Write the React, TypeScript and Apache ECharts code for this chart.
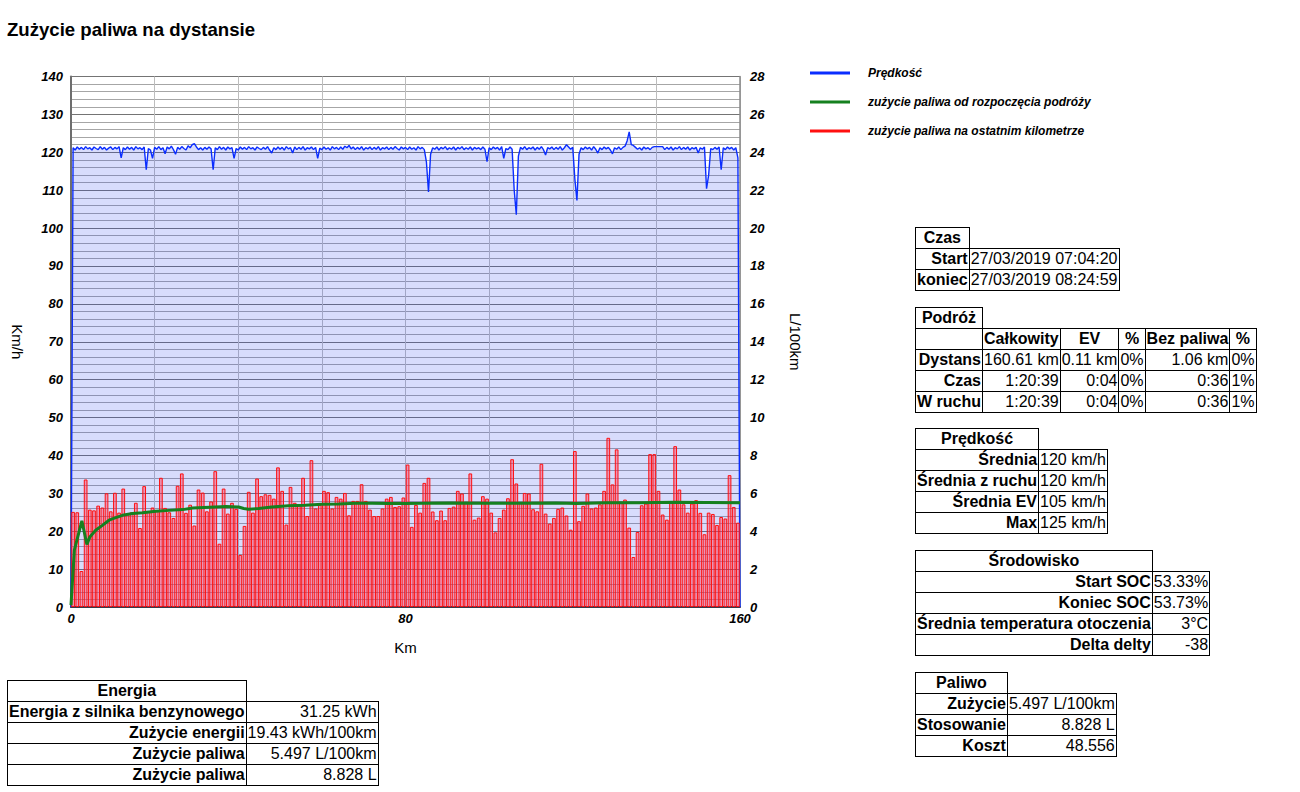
import React, { useEffect, useRef } from "react";
import * as echarts from "echarts";

const FONT = '"Liberation Sans", Arial, Helvetica, sans-serif';

// ---------- DATA ----------
const TITLE = "Zużycie paliwa na dystansie";
const SERIES_NAMES = [
  "Prędkość",
  "zużycie paliwa od rozpoczęcia podróży",
  "zużycie paliwa na ostatnim kilometrze",
];
const X_NAME = "Km";
const Y_LEFT_NAME = "Km/h";
const Y_RIGHT_NAME = "L/100km";

// speed (km/h), one sample every 0.5 km from km 0 to km 160
const SPEED_STEP_KM = 0.5;
const speedKmh = [
  0, 121.2, 120.6, 121.4, 120.8, 121.3, 120.7, 121.5, 120.9, 121.2, 120.6, 121.4, 121.0, 120.7, 121.5, 120.8, 121.3, 120.6, 121.1, 121.4,
  120.7, 121.3, 120.9, 121.5, 118.5, 121.2, 120.7, 121.4, 120.8, 121.3, 120.6, 121.5, 120.9, 121.2, 120.7, 121.4, 115.4, 121.0, 120.6, 118.4,
  121.3, 120.8, 121.5, 120.7, 121.2, 119.6, 121.4, 120.9, 121.6, 120.7, 119.5, 121.3, 120.8, 121.5, 121.0, 120.6, 121.7, 121.2, 122.0, 122.3,
  121.4, 120.7, 121.2, 120.6, 121.3, 120.8, 121.4, 120.9, 115.4, 121.2, 120.7, 121.5, 120.8, 121.3, 120.6, 121.4, 120.9, 121.2, 118.4, 121.0,
  120.6, 121.4, 120.8, 121.3, 120.7, 121.5, 120.9, 121.2, 120.6, 121.4, 121.0, 120.7, 121.3, 120.8, 121.5, 120.6, 119.8, 121.2, 120.7, 121.4,
  120.8, 121.3, 120.6, 121.5, 120.9, 121.2, 119.8, 121.4, 120.7, 121.3, 120.8, 121.5, 120.6, 121.2, 120.9, 121.4, 120.7, 121.3, 118.4, 121.1,
  120.7, 121.4, 120.8, 121.2, 120.6, 121.5, 120.9, 121.3, 120.7, 121.4, 120.8, 121.6, 121.2, 121.8, 120.9, 121.4, 120.7, 121.3, 120.8, 121.5,
  120.6, 121.2, 120.9, 121.4, 120.7, 121.3, 120.8, 121.5, 120.6, 121.2, 120.9, 121.4, 120.7, 121.3, 120.8, 121.5, 121.0, 120.6, 121.4, 120.9,
  121.3, 120.7, 121.4, 120.8, 121.2, 120.6, 121.5, 120.9, 121.3, 120.7, 117.5, 109.5, 119.5, 121.2, 120.8, 121.4, 120.6, 121.3, 120.9, 121.5,
  120.7, 121.2, 120.8, 121.4, 120.6, 121.3, 120.9, 121.5, 120.7, 121.2, 120.8, 121.4, 120.6, 121.3, 120.9, 121.2, 120.7, 121.4, 120.8, 117.5,
  121.2, 120.7, 121.4, 120.9, 121.3, 120.6, 121.5, 118.4, 121.0, 120.7, 121.4, 120.8, 110.0, 103.5, 119.0, 121.3, 120.8, 121.5, 120.7, 121.2,
  120.9, 121.4, 120.6, 121.3, 120.8, 121.5, 120.7, 119.3, 121.2, 120.9, 121.4, 120.7, 121.3, 120.8, 121.5, 120.6, 121.2, 122.0, 121.4, 120.8,
  121.3, 113.0, 107.3, 119.5, 121.2, 120.7, 121.4, 120.9, 121.3, 120.6, 121.5, 120.8, 119.8, 121.2, 120.7, 121.4, 120.9, 121.3, 120.6, 119.6,
  121.2, 120.8, 121.4, 120.7, 121.3, 121.6, 123.0, 125.4, 122.0, 121.8, 121.3, 120.8, 121.2, 120.6, 121.4, 120.9, 121.2, 120.7, 121.3, 121.5,
  121.5, 121.5, 121.5, 121.5, 120.7, 121.3, 120.8, 121.4, 120.6, 121.2, 120.9, 121.5, 120.7, 121.3, 120.8, 121.4, 120.6, 121.2, 120.9, 121.3,
  119.8, 121.2, 120.8, 121.4, 110.4, 114.0, 121.0, 120.7, 121.3, 120.8, 121.4, 115.4, 121.2, 120.7, 121.4, 120.9, 121.3, 120.6, 121.2, 118.5,
  0,
];

// fuel consumption on each kilometre (L/100km), km 1..160
const fuelPerKm = [
  5.02, 5.0, 1.9, 6.73, 5.14, 5.1, 5.35, 5.25, 6.0, 5.05,
  6.03, 4.98, 6.25, 4.93, 5.0, 5.5, 4.17, 6.38, 5.07, 5.25,
  5.1, 6.82, 5.23, 5.0, 4.7, 6.4, 7.05, 4.97, 5.4, 4.3,
  6.2, 6.04, 5.05, 5.57, 7.17, 3.34, 6.25, 4.93, 5.5, 5.18,
  2.75, 4.28, 6.08, 4.98, 6.78, 5.85, 5.95, 5.92, 5.72, 7.37,
  6.13, 4.35, 6.34, 5.5, 5.4, 6.82, 4.8, 7.75, 5.2, 5.4,
  6.13, 6.06, 5.2, 5.81, 5.72, 6.02, 4.84, 5.6, 5.6, 6.48,
  5.6, 5.14, 4.8, 4.8, 5.2, 5.72, 5.81, 5.28, 5.32, 5.78,
  7.52, 4.23, 5.39, 4.98, 6.55, 6.82, 5.04, 4.58, 5.09, 4.58,
  5.23, 5.3, 6.13, 5.99, 5.55, 7.05, 4.61, 4.72, 5.85, 5.72,
  4.98, 3.94, 4.7, 5.14, 5.74, 7.8, 6.52, 5.5, 6.02, 5.99,
  5.16, 5.05, 7.56, 4.93, 4.4, 4.7, 5.18, 5.25, 4.83, 4.08,
  8.23, 4.53, 5.34, 5.99, 5.2, 5.25, 5.42, 6.13, 8.93, 6.47,
  8.32, 5.55, 5.67, 4.19, 2.64, 3.96, 5.37, 5.46, 8.07, 8.07,
  6.13, 4.88, 4.61, 5.55, 8.49, 6.2, 5.42, 4.98, 5.46, 5.64,
  4.97, 3.84, 4.98, 4.91, 4.33, 4.75, 4.67, 6.96, 5.28, 4.45,
];

// average consumption since start of trip (L/100km)
const avgKm = [
  0, 0.8, 2.6, 3.8, 4.5, 5.9, 7.5, 9.1, 10.7, 12.3, 14.7, 17.1, 20.3, 23.5, 26.7, 29.1, 33.1, 37.1, 40.1, 41.3, 42.5,
  44.9, 48, 52, 56, 60, 64, 68, 72, 76, 80, 84, 91, 99, 107, 116, 121, 128, 136, 144, 152, 160,
];
const avgVal = [
  0.1, 3.0, 4.55, 3.3, 3.7, 4.05, 4.31, 4.58, 4.72, 4.84, 4.93, 4.98, 5.05, 5.1, 5.14, 5.23, 5.27, 5.3, 5.28, 5.2, 5.16,
  5.2, 5.28, 5.34, 5.37, 5.42, 5.44, 5.48, 5.48, 5.46, 5.46, 5.47, 5.49, 5.48, 5.48, 5.49, 5.46, 5.5, 5.5, 5.53, 5.52, 5.5,
];

// tables
const czasRows = [
  ["Start", "27/03/2019 07:04:20"],
  ["koniec", "27/03/2019 08:24:59"],
];
const podrozHead = ["", "Całkowity", "EV", "%", "Bez paliwa", "%"];
const podrozRows = [
  ["Dystans", "160.61 km", "0.11 km", "0%", "1.06 km", "0%"],
  ["Czas", "1:20:39", "0:04", "0%", "0:36", "1%"],
  ["W ruchu", "1:20:39", "0:04", "0%", "0:36", "1%"],
];
const predkoscRows = [
  ["Średnia", "120 km/h"],
  ["Średnia z ruchu", "120 km/h"],
  ["Średnia EV", "105 km/h"],
  ["Max", "125 km/h"],
];
const srodowiskoRows = [
  ["Start SOC", "53.33%"],
  ["Koniec SOC", "53.73%"],
  ["Średnia temperatura otoczenia", "3°C"],
  ["Delta delty", "-38"],
];
const paliwoRows = [
  ["Zużycie", "5.497 L/100km"],
  ["Stosowanie", "8.828 L"],
  ["Koszt", "48.556"],
];
const energiaRows = [
  ["Energia z silnika benzynowego", "31.25 kWh"],
  ["Zużycie energii", "19.43 kWh/100km"],
  ["Zużycie paliwa", "5.497 L/100km"],
  ["Zużycie paliwa", "8.828 L"],
];

// ---------- STYLES ----------
const COLOR_SPEED = "#0a2dff";
const COLOR_AVG = "#15801f";
const COLOR_BAR = "#ff1010";

const tdBase: React.CSSProperties = {
  border: "1px solid #000",
  padding: "1px 1px",
  whiteSpace: "nowrap",
  lineHeight: "18px",
};

function KVTable(props: {
  left: number;
  top: number;
  title: string;
  rows: string[][];
  valueAlign?: "left" | "right";
}) {
  const { left, top, title, rows, valueAlign = "right" } = props;
  return (
    <table
      style={{
        position: "absolute",
        left,
        top,
        borderCollapse: "collapse",
        fontFamily: FONT,
        fontSize: 16,
        color: "#000",
      }}
    >
      <tbody>
        <tr>
          <td style={{ ...tdBase, fontWeight: "bold", textAlign: "center" }}>{title}</td>
        </tr>
        {rows.map((r, i) => (
          <tr key={i}>
            <td style={{ ...tdBase, fontWeight: "bold", textAlign: "right" }}>{r[0]}</td>
            <td style={{ ...tdBase, textAlign: valueAlign }}>{r[1]}</td>
          </tr>
        ))}
      </tbody>
    </table>
  );
}

function PodrozTable(props: { left: number; top: number }) {
  return (
    <table
      style={{
        position: "absolute",
        left: props.left,
        top: props.top,
        borderCollapse: "collapse",
        fontFamily: FONT,
        fontSize: 16,
        color: "#000",
      }}
    >
      <tbody>
        <tr>
          <td style={{ ...tdBase, fontWeight: "bold", textAlign: "center" }}>Podróż</td>
        </tr>
        <tr>
          {podrozHead.map((h, i) => (
            <td key={i} style={{ ...tdBase, fontWeight: "bold", textAlign: "center" }}>
              {h}
            </td>
          ))}
        </tr>
        {podrozRows.map((r, i) => (
          <tr key={i}>
            {r.map((c, j) => (
              <td
                key={j}
                style={{ ...tdBase, fontWeight: j === 0 ? "bold" : "normal", textAlign: "right" }}
              >
                {c}
              </td>
            ))}
          </tr>
        ))}
      </tbody>
    </table>
  );
}

export default function App() {
  const ref = useRef<HTMLDivElement>(null);

  useEffect(() => {
    if (!ref.current) return;
    const chart = echarts.init(ref.current, null, { renderer: "svg" });

    const axisLabelStyle = {
      color: "#000",
      fontFamily: FONT,
      fontSize: 13,
      fontWeight: "bold" as const,
      fontStyle: "italic" as const,
    };
    const nameStyle = { color: "#000", fontFamily: FONT, fontSize: 15 };

    const legendYs = [73, 102, 131];
    const legendColors = [COLOR_SPEED, COLOR_AVG, COLOR_BAR];
    const legendGraphics: any[] = [];
    SERIES_NAMES.forEach((n, i) => {
      legendGraphics.push({
        type: "line",
        shape: { x1: 810, y1: legendYs[i], x2: 850, y2: legendYs[i] },
        style: { stroke: legendColors[i], lineWidth: 3 },
      });
      legendGraphics.push({
        type: "text",
        x: 868,
        y: legendYs[i],
        style: {
          text: n,
          fill: "#000",
          fontFamily: FONT,
          fontSize: 12,
          fontStyle: "italic",
          fontWeight: "bold",
          verticalAlign: "middle",
        },
      });
    });

    const option: any = {
      animation: false,
      backgroundColor: "#ffffff",
      textStyle: { fontFamily: FONT },
      title: {
        text: TITLE,
        left: 7,
        top: 20,
        padding: 0,
        textStyle: { color: "#000", fontFamily: FONT, fontSize: 18.6, fontWeight: "bold" },
      },
      graphic: legendGraphics,
      grid: { left: 71, right: 560, top: 76.5, bottom: 185, containLabel: false },
      xAxis: {
        type: "value",
        min: 0,
        max: 160,
        interval: 20,
        name: X_NAME,
        nameLocation: "middle",
        nameGap: 33,
        nameTextStyle: nameStyle,
        axisLine: { show: true, lineStyle: { color: "#3a3a4a", width: 2 } },
        axisTick: { show: false },
        axisLabel: {
          ...axisLabelStyle,
          margin: 5,
          formatter: (v: number) => (v % 80 === 0 ? String(v) : ""),
        },
        splitLine: { show: true, lineStyle: { color: "#bdbdbd", width: 1 } },
      },
      yAxis: [
        {
          type: "value",
          min: 0,
          max: 140,
          interval: 10,
          position: "left",
          name: Y_LEFT_NAME,
          nameLocation: "middle",
          nameRotate: -90,
          nameGap: 46,
          nameTextStyle: nameStyle,
          axisLine: { show: true, lineStyle: { color: "#6e6e6e", width: 2 } },
          axisTick: { show: false },
          axisLabel: { ...axisLabelStyle, margin: 8 },
          splitLine: { show: true, lineStyle: { color: "#747474", width: 1 } },
          minorTick: { show: false, splitNumber: 5 },
          minorSplitLine: { show: true, lineStyle: { color: "#a6a6a6", width: 1 } },
        },
        {
          type: "value",
          min: 0,
          max: 28,
          interval: 2,
          position: "right",
          name: Y_RIGHT_NAME,
          nameLocation: "middle",
          nameRotate: -90,
          nameGap: 48,
          nameTextStyle: nameStyle,
          axisLine: { show: true, lineStyle: { color: "#8a8a8a", width: 1.5 } },
          axisTick: { show: false },
          axisLabel: { ...axisLabelStyle, margin: 10 },
          splitLine: { show: false },
        },
      ],
      series: [
        {
          name: SERIES_NAMES[0],
          type: "line",
          xAxisIndex: 0,
          yAxisIndex: 0,
          data: speedKmh.map((v, i) => [i * SPEED_STEP_KM, v]),
          showSymbol: false,
          symbol: "none",
          lineStyle: { color: COLOR_SPEED, width: 1.4 },
          itemStyle: { color: COLOR_SPEED },
          areaStyle: { color: "rgba(40,60,240,0.26)" },
          z: 2,
        },
        {
          name: SERIES_NAMES[2],
          type: "bar",
          xAxisIndex: 0,
          yAxisIndex: 1,
          data: fuelPerKm.map((v, i) => [i + 0.5, v]),
          barWidth: 3.7,
          itemStyle: {
            color: "rgba(255,60,100,0.45)",
            borderColor: COLOR_BAR,
            borderWidth: 1,
          },
          z: 3,
        },
        {
          name: SERIES_NAMES[1],
          type: "line",
          xAxisIndex: 0,
          yAxisIndex: 1,
          data: avgKm.map((k, i) => [k, avgVal[i]]),
          showSymbol: false,
          symbol: "none",
          lineStyle: { color: COLOR_AVG, width: 3 },
          itemStyle: { color: COLOR_AVG },
          z: 4,
        },
      ],
    };

    chart.setOption(option);
    return () => chart.dispose();
  }, []);

  return (
    <div
      style={{
        position: "absolute",
        left: 0,
        top: 0,
        width: 1300,
        height: 792,
        background: "#fff",
        overflow: "hidden",
      }}
    >
      <div ref={ref} style={{ position: "absolute", left: 0, top: 0, width: 1300, height: 792 }} />
      <KVTable left={915} top={227} title="Czas" rows={czasRows} valueAlign="left" />
      <PodrozTable left={915} top={307} />
      <KVTable left={915} top={428} title="Prędkość" rows={predkoscRows} valueAlign="left" />
      <KVTable left={915} top={550} title="Środowisko" rows={srodowiskoRows} />
      <KVTable left={915} top={672} title="Paliwo" rows={paliwoRows} />
      <KVTable left={7} top={680} title="Energia" rows={energiaRows} />
    </div>
  );
}
